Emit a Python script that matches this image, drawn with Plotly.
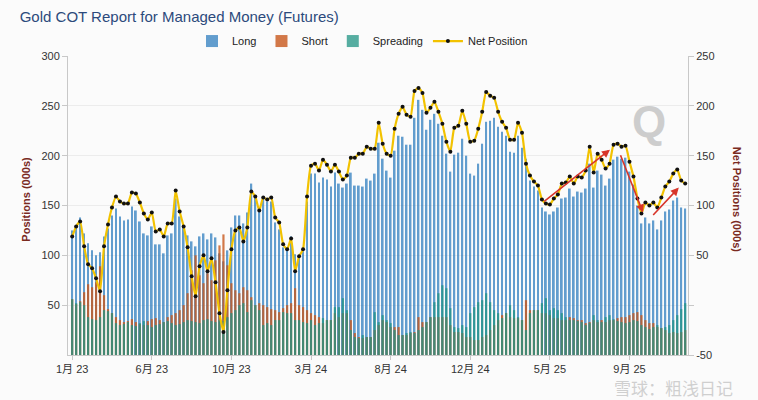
import plotly.graph_objects as go

# ---- data (thousands of contracts), weekly from Jan 2023 ----
net_position = [69, 79, 84, 59, 41, 37, 27, 14, 59, 81, 98, 109, 104, 102, 102, 113, 112, 103, 92, 86,
                93, 74, 76, 69, 82, 82, 115, 94, 79, 58, 29,
                9, 39, 50, 34, 47, 23, -8, -27, 15, 56, 75, 78, 64, 78, 114, 109, 95, 108, 106, 108,
                88, 83, 61, 56, 67, 34, 49, 56, 109, 140, 142, 135,
                146, 141, 134, 141, 134, 126, 130, 148, 148, 152, 152, 159, 157, 157, 183, 162, 152, 150,
                177, 192, 199, 191, 189, 215, 218, 213, 193, 198, 204, 194,
                182, 164, 154, 178, 180, 195, 182, 164, 165, 177, 194, 214, 210, 208, 194, 184, 178, 166,
                166, 183, 173, 142, 130, 124, 120, 106, 102, 101, 107, 111, 122, 123, 129,
                122, 129, 128, 135, 159, 133, 152, 146, 137, 142, 161, 162, 159, 160, 144, 129, 107, 92,
                103, 100, 103, 98, 108, 119, 124, 132, 136, 125, 122]

long_pos = [125, 130, 138, 122, 112, 105, 100, 103, 119, 127, 140, 147, 139, 135, 136, 149, 145, 134, 122, 120,
            129, 111, 111, 102, 120, 122, 157, 139, 129, 120, 114, 109, 119, 122, 116, 122, 118, 102, 94, 105,
            128, 140, 140, 132, 143, 172, 159, 147, 158, 154, 154, 133, 126, 108, 106, 119, 101, 99, 104, 154,
            182, 182, 173, 178, 176, 169, 183, 172, 168, 172, 183, 170, 170, 169, 177, 175, 182, 213, 197, 185,
            178, 205, 220, 219, 211, 211, 238, 256, 246, 226, 236, 242, 232, 220, 202, 184, 201, 203, 217, 200,
            182, 180, 192, 212, 234, 235, 238, 229, 224, 220, 204, 203, 220, 208, 197, 175, 169, 165, 148, 144,
            141, 144, 148, 157, 158, 167, 159, 164, 163, 167, 192, 168, 185, 181, 170, 177, 196, 199, 197, 198,
            184, 171, 150, 132, 138, 132, 135, 126, 135, 144, 146, 155, 158, 148, 147]

short_pos = [56, 51, 54, 63, 71, 68, 73, 89, 60,
             46, 42, 38, 35, 33, 34, 36, 33, 31, 30, 34, 36, 37, 35, 33, 38, 40, 42, 45,
             50, 62, 85, 100, 80, 72, 82, 75, 95, 110, 121, 90,
             72, 65, 62, 68, 65, 58, 50, 52, 50, 48, 46, 45, 43, 47, 50, 52, 67, 50, 48, 45, 42, 40, 38,
             32, 35, 35, 42, 38, 42, 42, 35, 22, 18, 17, 18, 18, 25, 30, 35, 33, 28, 28, 28, 20, 20, 22, 23,
             38, 33, 33, 38, 38, 38, 38,
             38, 30, 23, 23, 22, 18, 18, 15, 15, 18, 20, 25, 30, 35, 40, 42, 38, 37, 37, 35, 55, 45, 45, 45,
             42, 42, 40, 37, 37, 35, 35, 38,
             37, 35, 35, 32, 33, 35, 33, 35, 33, 35, 35, 37, 38, 38, 40, 42, 43, 40, 35, 32, 32, 28, 27, 25,
             22, 23, 22, 23, 25]

spreading_pos = [56, 52, 53, 50, 38, 36, 35, 38, 45, 44, 42,
                 32, 30, 31, 33, 30, 29, 32, 34, 30, 28, 30, 31, 33, 34, 32, 30, 31,
                 33, 35, 34, 33, 32, 35, 36, 34, 33, 35, 34, 38,
                 42, 45, 50, 52, 43, 55, 50, 45,
                 30, 32, 30, 35, 35, 43, 42, 42, 35, 35, 33,
                 32, 35, 30, 32,
                 37, 35, 35, 48, 48, 57, 45, 25, 18, 17, 20, 18, 18, 43, 33, 40, 35, 32, 25, 20, 20, 22, 23,
                 22, 25, 28, 33, 38, 53, 62, 70,
                 67, 47, 28, 27, 30, 28, 42, 48, 53, 55, 62, 53, 45, 42, 37, 42, 50, 45, 38, 35, 25, 42, 45, 45,
                 52, 57, 45, 47, 45, 42, 38, 35,
                 35, 34, 33, 30, 32, 40, 35, 33, 38, 40, 36, 34, 33, 32, 33, 35, 34, 30, 28, 26, 28, 30, 27, 28,
                 30, 35, 40, 46, 52]

tick_weeks = [0, 20, 40, 60, 80, 100, 120, 140]
tick_labels = ["1月 23", "6月 23", "10月 23", "3月 24", "8月 24", "12月 24", "5月 25", "9月 25"]

# trend arrows drawn on the net-position axis: (tail week, tail net, head week, head net)
arrows = [(118.2, 103, 135.1, 156), (137.6, 152, 143.4, 93), (145.6, 89, 152.4, 118)]

weeks = list(range(len(net_position)))

FONT = "Arial, 'Liberation Sans', 'Noto Sans CJK SC', sans-serif"
DARKRED = "#7a2a1f"

fig = go.Figure()
fig.add_trace(go.Bar(x=weeks, y=long_pos, name="Long", marker_color="#2f7ebf",
                     marker_line_width=0, width=0.45, opacity=0.75))
fig.add_trace(go.Bar(x=weeks, y=short_pos, name="Short", marker_color="#c8581c",
                     marker_line_width=0, width=0.55, opacity=0.8))
fig.add_trace(go.Bar(x=weeks, y=spreading_pos, name="Spreading", marker_color="#1f9483",
                     marker_line_width=0, width=0.55, opacity=0.75))
fig.add_trace(go.Scatter(x=weeks, y=net_position, name="Net Position", yaxis="y2",
                         mode="lines+markers",
                         line=dict(color="#f2c200", width=2.2, shape="spline", smoothing=0.5),
                         marker=dict(color="#111111", size=4)))

for tx, ty, hx, hy in arrows:
    fig.add_annotation(x=hx, y=hy, ax=tx, ay=ty, xref="x", yref="y2", axref="x", ayref="y2",
                       showarrow=True, arrowhead=2, arrowsize=1, arrowwidth=1.6,
                       arrowcolor="#d8352a", text="")

fig.update_layout(
    width=758, height=400,
    margin=dict(l=68, r=70, t=56, b=45),
    paper_bgcolor="#fbfbfb", plot_bgcolor="#fbfbfb",
    barmode="overlay",
    font=dict(family=FONT, size=11, color="#333333"),
    title=dict(text="Gold COT Report for Managed Money (Futures)", x=0.026, xanchor="left",
               y=0.957, yanchor="middle", xref="container", yref="container",
               font=dict(family=FONT, size=15, color="#2c4a7c")),
    legend=dict(orientation="h", x=0.475, xanchor="center", y=1.05, yanchor="middle",
                bgcolor="rgba(0,0,0,0)", font=dict(size=11, color="#222222"),
                itemwidth=30, tracegroupgap=0),
    showlegend=True,
    xaxis=dict(range=[-1.05, 154.7], tickmode="array", tickvals=tick_weeks, ticktext=tick_labels,
               showgrid=False, zeroline=False, showline=True, linecolor="#c8c8c8", linewidth=1,
               ticks="outside", ticklen=4, tickcolor="#c8c8c8",
               tickfont=dict(size=11, color="#333333")),
    yaxis=dict(range=[0, 300], tickmode="array", tickvals=[50, 100, 150, 200, 250, 300],
               showgrid=True, gridcolor="#ececec", gridwidth=1, zeroline=False,
               showline=True, linecolor="#c8c8c8", linewidth=1,
               ticks="outside", ticklen=5, tickcolor="#c8c8c8",
               tickfont=dict(size=11, color="#333333")),
    yaxis2=dict(range=[-50, 250], overlaying="y", side="right", tickmode="array",
                tickvals=[-50, 0, 50, 100, 150, 200, 250],
                ticktext=["-50", "", "50", "100", "150", "200", "250"],
                showgrid=False, zeroline=False, showline=True, linecolor="#c8c8c8", linewidth=1,
                ticks="outside", ticklen=5, tickcolor="#c8c8c8",
                tickfont=dict(size=11, color="#333333")),
)

fig.add_annotation(text="<b>Positions (000s)</b>", xref="paper", yref="paper",
                   x=-0.082, y=0.52, textangle=-90, showarrow=False,
                   font=dict(family=FONT, size=11, color=DARKRED))
fig.add_annotation(text="<b>Net Positions (000s)</b>", xref="paper", yref="paper",
                   x=1.093, y=0.52, textangle=90, showarrow=False,
                   font=dict(family=FONT, size=11, color=DARKRED))
fig.add_annotation(text="<b>Q</b>", xref="paper", yref="paper", x=0.967, y=0.87,
                   showarrow=False, font=dict(family=FONT, size=44, color="rgba(175,175,175,0.6)"))
fig.add_annotation(text="雪球：粗浅日记", xref="paper", yref="paper", x=1.076, y=-0.108,
                   xanchor="right", yanchor="middle", showarrow=False,
                   font=dict(family="'Noto Sans CJK SC', sans-serif", size=17,
                             color="rgba(200,200,200,0.85)"))

fig.write_html("out.html")
